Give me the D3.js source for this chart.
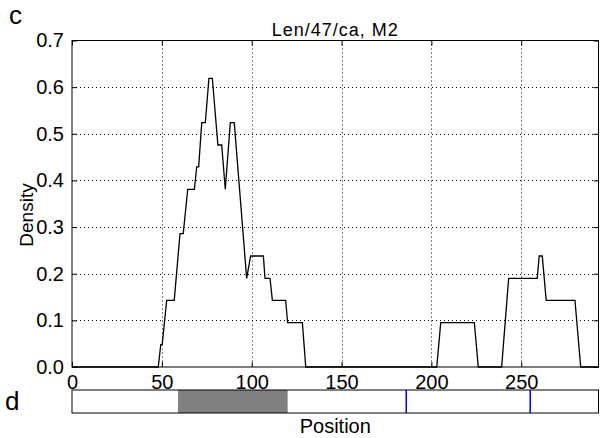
<!DOCTYPE html>
<html>
<head>
<meta charset="utf-8">
<script src="https://cdn.jsdelivr.net/npm/d3@7"></script>
<style>
  html, body { margin: 0; padding: 0; background: #fff; }
  svg { display: block; font-family: "Liberation Sans", "DejaVu Sans", sans-serif; }
</style>
</head>
<body>
<svg id="chart" width="600" height="438"></svg>
<script>
// ---- data ----
const positions = [0, 48, 49.4, 50.2, 52.7, 56.9, 60.1, 61.9, 64.4, 68.1, 69.4, 70.5, 72.2, 74.2,
  76.2, 78.1, 81.2, 83.3, 85.3, 88.1, 90.3, 97.2, 99.4, 106.5, 107.4, 110.2, 111.5, 118.9,
  120.0, 128.2, 130.1, 203, 205.2, 223.9, 226.1, 239.1, 243, 258.9, 260, 261.7, 263.9, 279.9, 283.1, 293];
const densities = [0, 0, 0.048, 0.048, 0.143, 0.143, 0.286, 0.286, 0.381, 0.381, 0.429, 0.429, 0.524, 0.524,
  0.619, 0.619, 0.476, 0.476, 0.381, 0.524, 0.524, 0.190, 0.238, 0.238, 0.190, 0.190, 0.143, 0.143,
  0.095, 0.095, 0, 0, 0.095, 0.095, 0, 0, 0.190, 0.190, 0.238, 0.238, 0.143, 0.143, 0, 0];
const xTicks = [0, 50, 100, 150, 200, 250];
const yTicks = [0.0, 0.1, 0.2, 0.3, 0.4, 0.5, 0.6, 0.7];
const regionStart = [59];
const regionEnd = [120];
const markerPositions = [186, 255];
const xMax = 293;
const title = "Len/47/ca, M2";

// ---- layout ----
const L = 72, R = 598.5, T = 40.5, B = 367;
const barTop = 390, barBottom = 413;

const svg = d3.select("#chart");
const x = d3.scaleLinear().domain([0, xMax]).range([L, R]);
const y = d3.scaleLinear().domain([0, 0.7]).range([B, T]);

// grid
const grid = svg.append("g");
grid.selectAll("line.vg").data(xTicks.filter(t => t > 0)).join("line")
  .attr("x1", d => Math.round(x(d)) + 0.5).attr("x2", d => Math.round(x(d)) + 0.5)
  .attr("y1", T).attr("y2", B)
  .attr("stroke", "#000").attr("stroke-width", 1).attr("stroke-dasharray", "1,3");
grid.selectAll("line.hg").data(yTicks.filter(t => t > 0 && t < 0.7)).join("line")
  .attr("x1", L).attr("x2", R)
  .attr("y1", d => Math.round(y(d)) + 0.5).attr("y2", d => Math.round(y(d)) + 0.5)
  .attr("stroke", "#000").attr("stroke-width", 1).attr("stroke-dasharray", "1,3");

// axes with inward ticks
const fmt = d3.format(".1f");
const gB = svg.append("g").attr("transform", `translate(0,${B})`)
  .call(d3.axisBottom(x).tickValues(xTicks).tickSize(-5).tickPadding(8).tickFormat(d3.format("d")));
const gT = svg.append("g").attr("transform", `translate(0,${T})`)
  .call(d3.axisTop(x).tickValues(xTicks).tickSize(-5).tickFormat(""));
const gL = svg.append("g").attr("transform", `translate(${L},0)`)
  .call(d3.axisLeft(y).tickValues(yTicks).tickSize(-5).tickPadding(8).tickFormat(fmt));
const gR = svg.append("g").attr("transform", `translate(${R},0)`)
  .call(d3.axisRight(y).tickValues(yTicks).tickSize(-5).tickFormat(""));
[gB, gT, gL, gR].forEach(g => {
  g.select(".domain").remove();
  g.selectAll("text").attr("font-size", 20).attr("fill", "#000")
    .attr("font-family", "Liberation Sans, sans-serif");
  g.selectAll("line").attr("stroke", "#000");
});
gB.selectAll("text").attr("dy", "0.71em");

// frame
svg.append("rect").attr("x", L).attr("y", T).attr("width", R - L).attr("height", B - T)
  .attr("fill", "none").attr("stroke", "#000").attr("stroke-width", 1);

// curve
const pts = positions.map((p, i) => [p, densities[i]]);
svg.append("path").datum(pts)
  .attr("d", d3.line().x(d => x(d[0])).y(d => y(d[1])))
  .attr("fill", "none").attr("stroke", "#000").attr("stroke-width", 1.3)
  .attr("stroke-linejoin", "miter");

// title & labels
svg.append("text").attr("x", (L + R) / 2).attr("y", 36).attr("text-anchor", "middle")
  .attr("font-size", 18).attr("letter-spacing", 1).text(title);
svg.append("text").attr("transform", `translate(33,215) rotate(-90)`).attr("text-anchor", "middle")
  .attr("font-size", 19).text("Density");
svg.append("text").attr("x", 9).attr("y", 24).attr("font-size", 26).text("c");
svg.append("text").attr("x", 5).attr("y", 410).attr("font-size", 26).text("d");

// domain bar (panel d)
const bar = svg.append("g");
bar.selectAll("rect.region").data(regionStart).join("rect")
  .attr("x", (d, i) => x(d)).attr("width", (d, i) => x(regionEnd[i]) - x(d))
  .attr("y", barTop).attr("height", barBottom - barTop).attr("fill", "#808080");
bar.selectAll("line.marker").data(markerPositions).join("line")
  .attr("x1", d => x(d)).attr("x2", d => x(d)).attr("y1", barTop).attr("y2", barBottom)
  .attr("stroke", "#0000ff").attr("stroke-width", 1.5);
bar.append("rect").attr("x", L).attr("y", barTop).attr("width", R - L).attr("height", barBottom - barTop)
  .attr("fill", "none").attr("stroke", "#000").attr("stroke-width", 1);
svg.append("text").attr("x", (L + R) / 2).attr("y", 433).attr("text-anchor", "middle")
  .attr("font-size", 20).text("Position");
</script>
</body>
</html>
